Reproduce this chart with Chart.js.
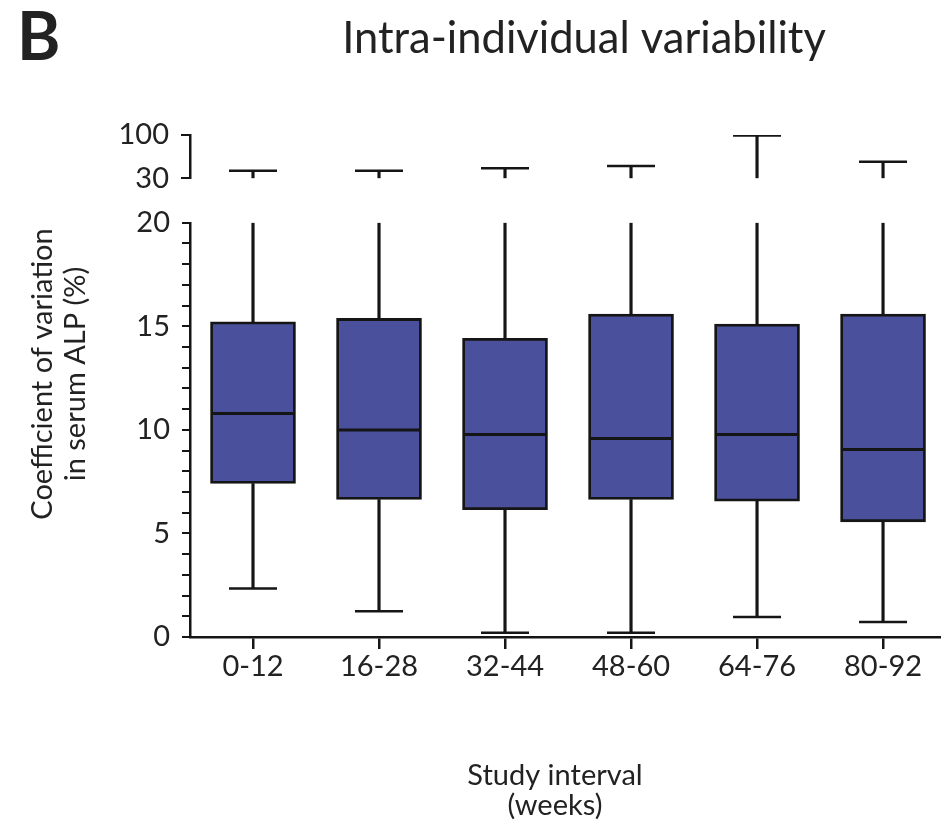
<!DOCTYPE html>
<html>
<head>
<meta charset="utf-8">
<script src="https://cdn.jsdelivr.net/npm/chart.js@4.4.1/dist/chart.umd.min.js"></script>
<style>
html,body{margin:0;padding:0;background:#ffffff;}
#wrap{position:relative;width:941px;height:825px;}
</style>
</head>
<body>
<div id="wrap"><canvas id="chart" width="941" height="825"></canvas></div>
<script>
// ---- data ----
const categories   = ['0-12', '16-28', '32-44', '48-60', '64-76', '80-92'];
const whiskerLow   = [2.34, 1.24, 0.21, 0.21, 0.97, 0.72];
const quartile1    = [7.41, 6.64, 6.15, 6.64, 6.56, 5.56];
const medians      = [10.79, 9.99, 9.78, 9.58, 9.78, 9.05];
const quartile3    = [15.22, 15.38, 14.42, 15.59, 15.11, 15.59];
const whiskerHigh  = [42.3, 42.3, 46.2, 49.9, 99, 56.8];
const lowerSegment = [0, 20];          // lower y-axis range
const upperSegment = [30, 100];        // upper y-axis range (after break)
const lowerLabels  = [0, 5, 10, 15, 20];
const upperLabels  = [30, 100];

const panelLabel = 'B';
const chartTitle = 'Intra-individual variability';
const yTitle = ['Coefficient of variation', 'in serum ALP (%)'];
const xTitle = ['Study interval', '(weeks)'];

// ---- styling ----
const FONT = 'Lato';
const INK = '#151515';
const TEXT = '#222222';
const BOX_FILL = '#4b509c';
const AXIS_W = 100;

const idx = categories.map((c, i) => i);

const texts = {
  id: 'texts',
  afterDraw(chart) {
    const ctx = chart.ctx;
    ctx.save();
    ctx.fillStyle = TEXT;
    ctx.textBaseline = 'alphabetic';
    ctx.textAlign = 'left';
    ctx.font = `bold 66px ${FONT}`;
    ctx.fillText(panelLabel, 17, 60);
    ctx.textAlign = 'center';
    ctx.font = `43.5px ${FONT}`;
    ctx.fillText(chartTitle, 584, 53);
    ctx.font = `29px ${FONT}`;
    ctx.fillText(xTitle[0], 555, 785);
    ctx.fillText(xTitle[1], 555, 815);
    ctx.translate(52, 374);
    ctx.rotate(-Math.PI / 2);
    ctx.fillText(yTitle[0], 0, 0);
    ctx.fillText(yTitle[1], 0, 33);
    ctx.restore();
  }
};

const tickFont = { family: FONT, size: 29 };

new Chart(document.getElementById('chart'), {
  type: 'bar',
  data: {
    datasets: [
      { // medians
        type: 'scatter', yAxisID: 'yLow', order: 0,
        data: idx.map(i => ({ x: i, y: medians[i] })),
        pointStyle: 'line', pointRadius: 42, borderColor: INK, borderWidth: 3
      },
      { // lower caps
        type: 'scatter', yAxisID: 'yLow', order: 0,
        data: idx.map(i => ({ x: i, y: whiskerLow[i] })),
        pointStyle: 'line', pointRadius: 24, borderColor: INK, borderWidth: 2.5
      },
      { // upper caps
        type: 'scatter', yAxisID: 'yTop', order: 0,
        data: idx.map(i => ({ x: i, y: whiskerHigh[i] })),
        pointStyle: 'line', pointRadius: 24, borderColor: INK, borderWidth: 2.5
      },
      { // boxes
        type: 'bar', yAxisID: 'yLow', order: 1, grouped: false,
        data: idx.map(i => ({ x: i, y: [quartile1[i], quartile3[i]] })),
        backgroundColor: BOX_FILL, borderColor: INK, borderWidth: 2.8, borderSkipped: false,
        barThickness: 85
      },
      { // lower whiskers
        type: 'bar', yAxisID: 'yLow', order: 2, grouped: false,
        data: idx.map(i => ({ x: i, y: [whiskerLow[i], quartile1[i]] })),
        backgroundColor: INK, borderWidth: 0, barThickness: 2.5
      },
      { // upper whiskers (lower panel, up to the break)
        type: 'bar', yAxisID: 'yLow', order: 2, grouped: false,
        data: idx.map(i => ({ x: i, y: [quartile3[i], lowerSegment[1]] })),
        backgroundColor: INK, borderWidth: 0, barThickness: 2.5
      },
      { // upper whiskers (upper panel, after the break)
        type: 'bar', yAxisID: 'yTop', order: 2, grouped: false,
        data: idx.map(i => ({ x: i, y: [upperSegment[0], whiskerHigh[i]] })),
        backgroundColor: INK, borderWidth: 0, barThickness: 2.5
      }
    ]
  },
  options: {
    responsive: false,
    animation: false,
    events: [],
    layout: { autoPadding: false, padding: { top: 135, left: 190 - AXIS_W, right: 0, bottom: 138 } },
    plugins: { legend: { display: false }, tooltip: { enabled: false }, title: { display: false } },
    scales: {
      x: {
        type: 'linear', position: 'bottom', min: -0.5, max: 5.46, offset: false,
        afterBuildTicks: s => { s.ticks = idx.map(i => ({ value: i })); },
        afterFit: s => { s.height = 50; s.paddingRight = 0; s.paddingLeft = 0; },
        ticks: { callback: v => categories[v], font: tickFont, color: TEXT, padding: 0, autoSkip: false, maxRotation: 0 },
        grid: { display: true, offset: false, drawOnChartArea: false, drawTicks: true, tickLength: 12, color: INK, lineWidth: 2.5 },
        border: { display: true, color: INK, width: 2.5 }
      },
      yLow: {
        type: 'linear', position: 'left', stack: 'y', stackWeight: 414, weight: 1,
        min: lowerSegment[0], max: lowerSegment[1],
        afterBuildTicks: s => { const t = []; for (let v = lowerSegment[0]; v <= lowerSegment[1]; v++) t.push({ value: v }); s.ticks = t; },
        afterFit: s => { s.width = AXIS_W; },
        ticks: { callback: v => lowerLabels.includes(v) ? String(v) : '', font: tickFont, color: TEXT, padding: 12, autoSkip: false },
        grid: { display: true, drawOnChartArea: false, drawTicks: true, tickLength: 8, color: INK, lineWidth: 2 },
        border: { display: true, color: INK, width: 2.5 }
      },
      yGap: {
        type: 'linear', position: 'left', stack: 'y', stackWeight: 44.4, weight: 2,
        display: false
      },
      yTop: {
        type: 'linear', position: 'left', stack: 'y', stackWeight: 43.3, weight: 3,
        min: upperSegment[0], max: upperSegment[1],
        afterBuildTicks: s => { s.ticks = upperLabels.map(v => ({ value: v })); },
        afterFit: s => { s.width = AXIS_W; },
        ticks: { font: tickFont, color: TEXT, padding: 12, autoSkip: false },
        grid: { display: true, drawOnChartArea: false, drawTicks: true, tickLength: 9, color: INK, lineWidth: 2 },
        border: { display: true, color: INK, width: 2.5 }
      }
    }
  },
  plugins: [texts]
});
</script>
</body>
</html>
